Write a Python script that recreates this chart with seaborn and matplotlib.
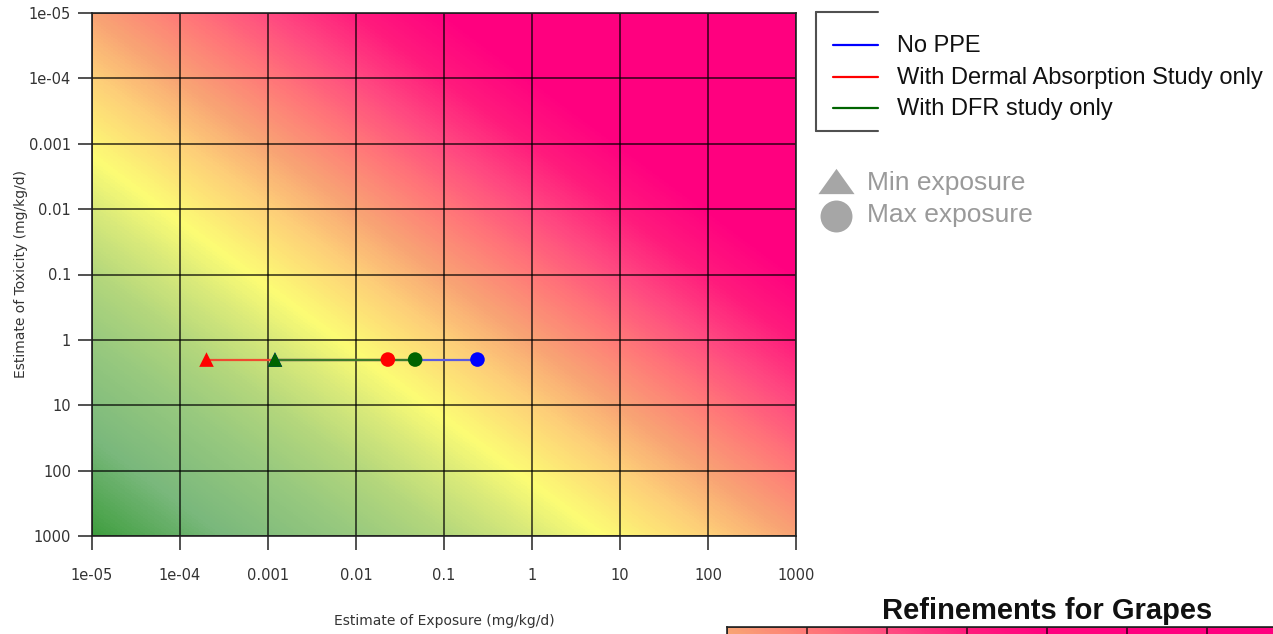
import numpy as np
import pandas as pd
import matplotlib
matplotlib.use("Agg")
import matplotlib.pyplot as plt
import seaborn as sns
from matplotlib.colors import LinearSegmentedColormap, Normalize
from matplotlib.lines import Line2D

# ---------------- data ----------------
series_names = ["No PPE", "With Dermal Absorption Study only", "With DFR study only"]
series_colors = ["#0000ff", "#ff0000", "#006400"]
line_colors = ["#5a5ae0", "#ee4a30", "#3a7a2a"]
min_exposure = [0.0012, 0.0002, 0.0012]
max_exposure = [0.24, 0.023, 0.047]
toxicity = [2.0, 2.0, 2.0]

tick_values = [1e-05, 1e-04, 1e-03, 1e-02, 1e-01, 1, 10, 100, 1000]
tick_labels = ["1e-05", "1e-04", "0.001", "0.01", "0.1", "1", "10", "100", "1000"]

marker_kinds = ["Min exposure", "Max exposure"]

rows = []
for name, lo, hi, tox in zip(series_names, min_exposure, max_exposure, toxicity):
    rows.append({"series": name, "exposure": lo, "toxicity": tox, "kind": "min"})
    rows.append({"series": name, "exposure": hi, "toxicity": tox, "kind": "max"})
df = pd.DataFrame(rows)
marker_palette = dict(zip(series_names, series_colors))
line_palette = dict(zip(series_names, line_colors))

# ---------------- style ----------------
sns.set_style("white")
plt.rcParams["font.family"] = ["DejaVu Sans"]

anchors = [(-8, "#3f9e3f"), (-6.5, "#7ab87c"), (-5, "#98c97e"), (-4, "#b2d67c"),
           (-3, "#d8e97a"), (-2.2, "#fcfc74"), (-1, "#fdd078"), (0, "#f8a274"),
           (1, "#ff7878"), (2, "#ff4a80"), (3, "#ff1a7c"), (4, "#ff007f"), (8, "#ff007f")]
cmap = LinearSegmentedColormap.from_list(
    "risk", [((d + 8) / 16, c) for d, c in anchors])


def draw_background(a):
    edges = np.logspace(-5, 3, 401)
    lc = (np.log10(edges[:-1]) + np.log10(edges[1:])) / 2
    LX, LY = np.meshgrid(lc, lc)
    a.pcolormesh(edges, edges, LX - LY, cmap=cmap, norm=Normalize(-8, 8),
                 shading="flat", rasterized=True, zorder=1)


def style_axes(a, labels=True):
    a.set_xscale("log")
    a.set_yscale("log")
    a.set_xlim(1e-05, 1000)
    a.set_ylim(1000, 1e-05)
    a.set_xticks(tick_values)
    a.set_yticks(tick_values)
    if labels:
        a.set_xticklabels(tick_labels)
        a.set_yticklabels(tick_labels)
    else:
        a.set_xticklabels([])
        a.set_yticklabels([])
    a.minorticks_off()
    a.set_axisbelow("line")
    a.grid(True, which="major", color="black", lw=1.2, alpha=0.75)
    for s in a.spines.values():
        s.set_color("#222222")
        s.set_linewidth(1.2)
    a.tick_params(bottom=True, left=True, length=10 if labels else 0, width=1.2,
                  color="#333333", labelsize=10.5, labelcolor="#333333", direction="out")
    a.tick_params(axis="x", pad=13)
    a.tick_params(axis="y", pad=5)


W, H = 1273, 634
fig = plt.figure(figsize=(W / 100, H / 100), dpi=100)
ax = fig.add_axes([92 / W, 1 - 536 / H, 704 / W, 523 / H])
ax.set_xscale("log")
ax.set_yscale("log")
draw_background(ax)

sns.lineplot(data=df, x="exposure", y="toxicity", hue="series", hue_order=series_names,
             palette=line_palette, estimator=None, sort=False, legend=False,
             lw=1.6, ax=ax, zorder=3)
sns.scatterplot(data=df, x="exposure", y="toxicity", hue="series", hue_order=series_names,
                palette=marker_palette, style="kind", markers={"min": "^", "max": "o"},
                s=110, edgecolor="none", legend=False, ax=ax, zorder=4)
style_axes(ax)
ax.set_xlabel("Estimate of Exposure (mg/kg/d)", fontsize=10, color="#333333", labelpad=22)
ax.set_ylabel("Estimate of Toxicity (mg/kg/d)", fontsize=10, color="#333333", labelpad=1)

# ---------------- legend (manual) ----------------
def fx(px):
    return px / W


def fy(py):
    return 1 - py / H


frame_kw = dict(color="#505050", lw=1.5, transform=fig.transFigure)
fig.add_artist(Line2D([fx(816), fx(816)], [fy(12), fy(131)], **frame_kw))
fig.add_artist(Line2D([fx(816), fx(878)], [fy(12), fy(12)], **frame_kw))
fig.add_artist(Line2D([fx(816), fx(878)], [fy(131), fy(131)], **frame_kw))

leg_font = ["Liberation Sans", "DejaVu Sans"]
for name, color, py in zip(series_names, series_colors, [45, 77, 108]):
    fig.add_artist(Line2D([fx(833), fx(878)], [fy(py), fy(py)], color=color, lw=1.6,
                          transform=fig.transFigure))
    fig.text(fx(897), fy(py + 1), name, fontsize=17, family=leg_font, color="#111111",
             va="center", ha="left")

tri = [(-1, -0.7), (1, -0.7), (0, 0.7)]
fig.add_artist(Line2D([fx(836)], [fy(181)], marker=tri, ms=26, color="#a6a6a6",
                      mec="none", transform=fig.transFigure))
fig.add_artist(Line2D([fx(836)], [fy(216)], marker="o", ms=23, color="#a6a6a6",
                      mec="none", transform=fig.transFigure))
for txt, py in zip(marker_kinds, [183, 215]):
    fig.text(fx(867), fy(py), txt, fontsize=19, family=leg_font, color="#9a9a9a",
             va="center", ha="left")

# ---------------- second (cropped) chart ----------------
ax2 = fig.add_axes([727 / W, (H - 627 - 500) / H, 640 / W, 500 / H])
ax2.set_xscale("log")
ax2.set_yscale("log")
draw_background(ax2)
style_axes(ax2, labels=False)
ax2.set_title("Refinements for Grapes", fontsize=21, fontweight="bold",
              family=leg_font, color="#111111", pad=6)

fig.savefig("out.png", dpi=100)
